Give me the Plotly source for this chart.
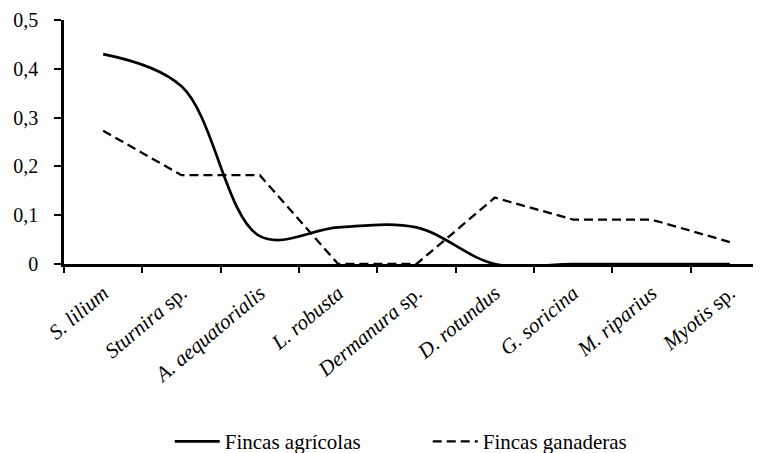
import plotly.graph_objects as go

categories = ["<i>S. lilium</i>", "<i>Sturnira</i> sp.", "<i>A. aequatorialis</i>",
              "<i>L. robusta</i>", "<i>Dermanura</i> sp.", "<i>D. rotundus</i>",
              "<i>G. soricina</i>", "<i>M. riparius</i>", "<i>Myotis</i> sp."]
agricolas = [0.43, 0.364, 0.057, 0.075, 0.075, 0, 0, 0, 0]
ganaderas = [0.273, 0.182, 0.182, 0, 0, 0.136, 0.091, 0.091, 0.045]
y_ticks = [0, 0.1, 0.2, 0.3, 0.4, 0.5]
y_labels = ["0", "0,1", "0,2", "0,3", "0,4", "0,5"]

font = "Liberation Serif, Times New Roman, serif"

fig = go.Figure()
fig.add_trace(go.Scatter(x=categories, y=agricolas, mode="lines", name="Fincas agrícolas",
                         line=dict(color="black", width=2.7, shape="spline", smoothing=1.0)))
fig.add_trace(go.Scatter(x=categories, y=ganaderas, mode="lines", name="Fincas ganaderas",
                         line=dict(color="black", width=2.3, dash="9px,5px")))

fig.update_layout(
    width=761, height=453,
    margin=dict(l=56, r=0, t=12, b=197, autoexpand=False),
    paper_bgcolor="white", plot_bgcolor="white",
    font=dict(family=font, size=20, color="black"),
    showlegend=True,
    legend=dict(orientation="h", x=0.15, xanchor="left", y=-0.728, yanchor="middle",
                font=dict(family=font, size=21, color="black"), itemwidth=45,
                entrywidth=198, entrywidthmode="pixels"),
    xaxis=dict(type="category", range=[-0.5, 8.5], tickson="boundaries", automargin=False,
               showline=True, linecolor="black", linewidth=2.5, ticks="outside",
               ticklen=6, tickwidth=2, tickcolor="black", showgrid=False,
               tickangle=-40, ticklabelstandoff=6, tickfont=dict(family=font, size=21)),
    yaxis=dict(range=[0, 0.5], tickvals=y_ticks, ticktext=y_labels, automargin=False,
               showline=True, linecolor="black", linewidth=2.5, ticks="outside",
               ticklen=7, tickwidth=2, tickcolor="black", showgrid=False, zeroline=False,
               ticklabelstandoff=12, tickfont=dict(family=font, size=20)),
)

fig.write_html("out.html")
